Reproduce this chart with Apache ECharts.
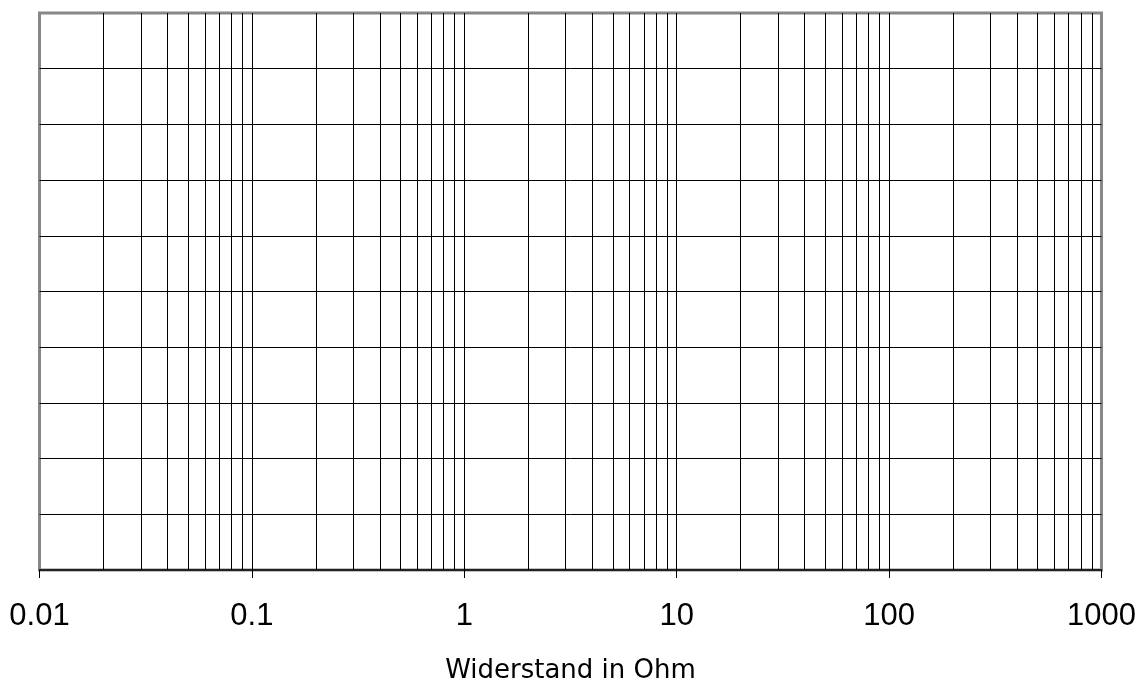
<!DOCTYPE html>
<html>
<head>
<meta charset="utf-8">
<script src="https://cdn.jsdelivr.net/npm/echarts@6/dist/echarts.min.js"></script>
<style>
  html, body { margin: 0; padding: 0; background: #fff; }
  #chart { width: 1142px; height: 684px; }
</style>
</head>
<body>
<div id="chart"></div>
<script>
// Major decades shown on the logarithmic resistance axis
const xMin = 0.01;
const xMax = 1000;
const xTickValues = [0.01, 0.1, 1, 10, 100, 1000];
const xTickLabels = ['0.01', '0.1', '1', '10', '100', '1000'];
// Minor grid lines (2..9 within each decade)
const minorGridValues = [
  0.02, 0.03, 0.04, 0.05, 0.06, 0.07, 0.08, 0.09,
  0.2, 0.3, 0.4, 0.5, 0.6, 0.7, 0.8, 0.9,
  2, 3, 4, 5, 6, 7, 8, 9,
  20, 30, 40, 50, 60, 70, 80, 90,
  200, 300, 400, 500, 600, 700, 800, 900
];
// Horizontal grid: 10 equal divisions, no labels
const yMin = 0;
const yMax = 10;
const yInterval = 1;
const xAxisTitle = 'Widerstand in Ohm';

const chart = echarts.init(document.getElementById('chart'), null, { renderer: 'canvas' });

const option = {
  animation: false,
  backgroundColor: '#ffffff',
  grid: {
    left: 39.5,
    right: 40.5,
    top: 13,
    bottom: 114,
    containLabel: false,
    outerBoundsMode: 'none',
    show: true,
    borderColor: '#888888',
    borderWidth: 3,
    backgroundColor: 'transparent'
  },
  xAxis: {
    type: 'log',
    logBase: 10,
    min: xMin,
    max: xMax,
    splitNumber: 5,
    name: xAxisTitle,
    nameLocation: 'middle',
    nameGap: 88,
    nameTextStyle: {
      fontFamily: 'DejaVu Sans',
      fontSize: 26,
      color: '#000'
    },
    axisLine: { show: true, lineStyle: { color: '#000', width: 1.5 } },
    axisTick: { show: true, length: 8, lineStyle: { color: '#000', width: 1 } },
    axisLabel: {
      show: true,
      margin: 31,
      fontFamily: 'Liberation Sans',
      fontSize: 31,
      color: '#000',
      formatter: function (v) {
        for (let i = 0; i < xTickValues.length; i++) {
          if (Math.abs(Math.log10(v) - Math.log10(xTickValues[i])) < 1e-6) return xTickLabels[i];
        }
        return '';
      }
    },
    splitLine: {
      show: true,
      showMinLine: false,
      showMaxLine: false,
      lineStyle: { color: '#000', width: 1 }
    }
  },
  yAxis: {
    type: 'value',
    min: yMin,
    max: yMax,
    interval: yInterval,
    axisLine: { show: false },
    axisTick: { show: false },
    axisLabel: { show: false },
    splitLine: {
      show: true,
      showMinLine: false,
      showMaxLine: false,
      lineStyle: { color: '#000', width: 1 }
    }
  },
  series: [{
    type: 'line',
    data: [],
    silent: true,
    markLine: {
      silent: true,
      symbol: ['none', 'none'],
      label: { show: false },
      lineStyle: { color: '#000', width: 1, type: 'solid' },
      emphasis: { disabled: true },
      animation: false,
      data: minorGridValues.map(v => ({ xAxis: v }))
    }
  }]
};

chart.setOption(option);
</script>
</body>
</html>
